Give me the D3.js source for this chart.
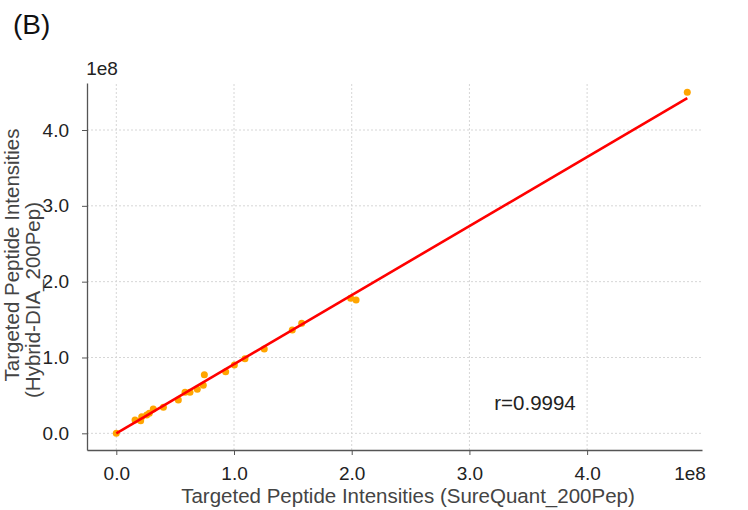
<!DOCTYPE html>
<html><head><meta charset="utf-8">
<script src="https://cdn.jsdelivr.net/npm/d3@7"></script>
<style>body{margin:0;background:#fff}svg{display:block}text{font-family:"Liberation Sans",Arial,sans-serif}</style>
</head><body><svg id="c" width="748" height="510"></svg>
<script>
// data (units of 1e8)
const sureQuant = [0.0,0.159,0.216,0.207,0.258,0.28,0.314,0.40,0.527,0.584,0.626,0.688,0.739,0.748,0.929,1.003,1.093,1.257,1.495,1.575,1.991,2.037,4.851];
const hybridDIA = [0.0,0.175,0.219,0.166,0.241,0.264,0.32,0.343,0.439,0.541,0.541,0.58,0.633,0.773,0.813,0.901,0.984,1.112,1.363,1.451,1.781,1.759,4.499];
const fitLine = [[0.0,0.0],[4.851,4.42]];
const xTicks = [0,1,2,3,4];
const yTicks = [0,1,2,3,4];
const tickFmt = d3.format(".1f");

const svg = d3.select("#c");
const x = d3.scaleLinear().domain([-0.249,4.976]).range([87,702]);
const y = d3.scaleLinear().domain([-0.22,4.62]).range([450,83]);

// grid
const g = svg.append("g");
g.selectAll(".gx").data(xTicks).join("line")
  .attr("x1",d=>x(d)).attr("x2",d=>x(d)).attr("y1",y.range()[0]).attr("y2",y.range()[1])
  .attr("stroke","#d6d6d6").attr("stroke-width",1).attr("stroke-dasharray","2,2");
g.selectAll(".gy").data(yTicks).join("line")
  .attr("y1",d=>y(d)).attr("y2",d=>y(d)).attr("x1",x.range()[0]).attr("x2",x.range()[1])
  .attr("stroke","#d6d6d6").attr("stroke-width",1).attr("stroke-dasharray","2,2");

// axes
const xa = svg.append("g").attr("transform","translate(0,450)")
  .call(d3.axisBottom(x).tickValues(xTicks).tickFormat(tickFmt).tickSize(5).tickPadding(12).tickSizeOuter(0));
const ya = svg.append("g").attr("transform","translate(87,0)")
  .call(d3.axisLeft(y).tickValues(yTicks).tickFormat(tickFmt).tickSize(5).tickPadding(13).tickSizeOuter(0));
[xa,ya].forEach(a=>{
  a.select(".domain").attr("stroke","#555").attr("stroke-width",1.3);
  a.selectAll(".tick line").attr("stroke","#555");
  a.selectAll(".tick text").attr("font-size",19).attr("fill","#222").attr("font-family","Liberation Sans, Arial, sans-serif");
});

// points
svg.append("g").selectAll("circle").data(sureQuant.map((v,i)=>[v,hybridDIA[i]])).join("circle")
  .attr("cx",d=>x(d[0])).attr("cy",d=>y(d[1])).attr("r",3.5).attr("fill","#FFA500");

// fit line
svg.append("path").datum(fitLine)
  .attr("d",d3.line().x(d=>x(d[0])).y(d=>y(d[1])))
  .attr("stroke","#ff0000").attr("stroke-width",2.6).attr("fill","none");

// texts
svg.append("text").attr("x",13).attr("y",34).attr("font-size",28).attr("fill","#111").text("(B)");
svg.append("text").attr("x",102).attr("y",75).attr("text-anchor","middle").attr("font-size",19).attr("fill","#222").text("1e8");
svg.append("text").attr("x",690).attr("y",480).attr("text-anchor","middle").attr("font-size",19).attr("fill","#222").text("1e8");
svg.append("text").attr("x",535).attr("y",410).attr("text-anchor","middle").attr("font-size",20.5).attr("fill","#222").text("r=0.9994");
svg.append("text").attr("x",408).attr("y",503).attr("text-anchor","middle").attr("font-size",20.5).attr("fill","#444").text("Targeted Peptide Intensities (SureQuant_200Pep)");
svg.append("text").attr("transform","translate(19,255) rotate(-90)").attr("text-anchor","middle").attr("font-size",20.5).attr("fill","#444").text("Targeted Peptide Intensities");
svg.append("text").attr("transform","translate(40,300) rotate(-90)").attr("text-anchor","middle").attr("font-size",20.5).attr("fill","#444").text("(Hybrid-DIA_200Pep)");
</script></body></html>
